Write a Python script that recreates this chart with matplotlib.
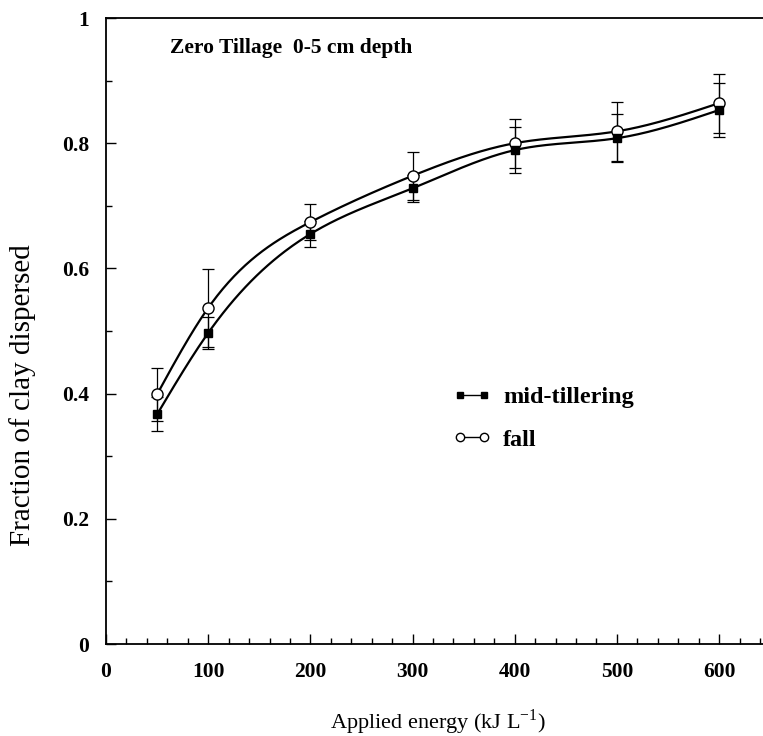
import numpy as np
import matplotlib
matplotlib.use("Agg")
import matplotlib.pyplot as plt
from matplotlib.ticker import MultipleLocator

energy = [50, 100, 200, 300, 400, 500, 600]
mid_tillering = [0.367, 0.497, 0.655, 0.728, 0.789, 0.808, 0.853]
mid_err = [0.027, 0.026, 0.021, 0.022, 0.037, 0.038, 0.043]
fall = [0.399, 0.537, 0.674, 0.748, 0.800, 0.819, 0.864]
fall_err = [0.042, 0.062, 0.029, 0.038, 0.039, 0.047, 0.047]

x_ticks = [0, 100, 200, 300, 400, 500, 600]
y_ticks = [0, 0.2, 0.4, 0.6, 0.8, 1]
y_ticklabels = ["0", "0.2", "0.4", "0.6", "0.8", "1"]

plt.rcParams['font.family'] = ['Liberation Serif', 'DejaVu Serif']


def natural_spline(x, y, n=300):
    x = np.asarray(x, float)
    y = np.asarray(y, float)
    m = len(x)
    h = np.diff(x)
    A = np.zeros((m, m))
    b = np.zeros(m)
    A[0, 0] = 1
    A[-1, -1] = 1
    for i in range(1, m - 1):
        A[i, i - 1] = h[i - 1]
        A[i, i] = 2 * (h[i - 1] + h[i])
        A[i, i + 1] = h[i]
        b[i] = 6 * ((y[i + 1] - y[i]) / h[i] - (y[i] - y[i - 1]) / h[i - 1])
    M = np.linalg.solve(A, b)
    xs = np.linspace(x[0], x[-1], n)
    ys = np.empty_like(xs)
    for k, xv in enumerate(xs):
        i = min(np.searchsorted(x, xv) - 1, m - 2)
        i = max(i, 0)
        t1 = x[i + 1] - xv
        t0 = xv - x[i]
        ys[k] = (M[i] * t1 ** 3 / (6 * h[i]) + M[i + 1] * t0 ** 3 / (6 * h[i])
                 + (y[i] / h[i] - M[i] * h[i] / 6) * t1
                 + (y[i + 1] / h[i] - M[i + 1] * h[i] / 6) * t0)
    return xs, ys


fig = plt.figure(figsize=(7.63, 7.36), dpi=100)
ax = fig.add_axes([0.139, 0.125, 0.861, 0.8505])

# smooth curves
xs, ys = natural_spline(energy, mid_tillering)
ax.plot(xs, ys, color='black', lw=1.6, zorder=2)
xs, ys = natural_spline(energy, fall)
ax.plot(xs, ys, color='black', lw=1.6, zorder=2)

# error bars
ax.errorbar(energy, mid_tillering, yerr=mid_err, fmt='none', ecolor='black',
            elinewidth=0.9, capsize=4.5, capthick=0.9, zorder=1)
ax.errorbar(energy, fall, yerr=fall_err, fmt='none', ecolor='black',
            elinewidth=0.9, capsize=4.5, capthick=0.9, zorder=1)

# markers
ax.plot(energy, mid_tillering, 's', color='black', ms=5.5, zorder=4)
ax.plot(energy, fall, 'o', mfc='white', mec='black', mew=1.0, ms=8, zorder=3)

# legend proxies
h1, = ax.plot([], [], 's-', color='black', ms=4, lw=1.0)
h2, = ax.plot([], [], 'o-', color='black', mfc='white', ms=6, lw=1.0)
leg = ax.legend([h1, h2], ['mid-tillering', 'fall'], loc='upper left',
                bbox_to_anchor=(0.527, 0.412), frameon=False, numpoints=2,
                handlelength=1.6, handletextpad=0.5, labelspacing=0.85,
                borderpad=0, borderaxespad=0,
                prop={'family': 'Liberation Serif', 'weight': 'bold', 'size': 17.5})

ax.text(0.097, 0.968, 'Zero Tillage  0-5 cm depth', transform=ax.transAxes,
        fontsize=15.5, fontweight='bold', va='top', ha='left')

ax.set_xlim(0, 643)
ax.set_ylim(0, 1)
ax.set_xticks(x_ticks)
ax.set_yticks(y_ticks)
ax.set_yticklabels(y_ticklabels)
ax.xaxis.set_minor_locator(MultipleLocator(20))
ax.yaxis.set_minor_locator(MultipleLocator(0.1))
ax.tick_params(which='both', direction='in', top=False, right=False)
ax.tick_params(which='major', length=7, width=1)
ax.tick_params(which='minor', length=4, width=1)
ax.tick_params(axis='x', pad=13)
ax.tick_params(axis='y', pad=12)
for lbl in ax.get_xticklabels() + ax.get_yticklabels():
    lbl.set_fontweight('bold')
    lbl.set_fontsize(15.5)

ax.spines['right'].set_visible(False)
for s in ['left', 'bottom', 'top']:
    ax.spines[s].set_linewidth(1.3)

ax.set_xlabel('Applied energy (kJ L$^{\\mathregular{-1}}$)', fontsize=16)
ax.xaxis.set_label_coords(0.505, -0.102)
ax.set_ylabel('Fraction of clay dispersed', fontsize=21)
ax.yaxis.set_label_coords(-0.106, 0.398)

fig.savefig('out.png', dpi=100)
